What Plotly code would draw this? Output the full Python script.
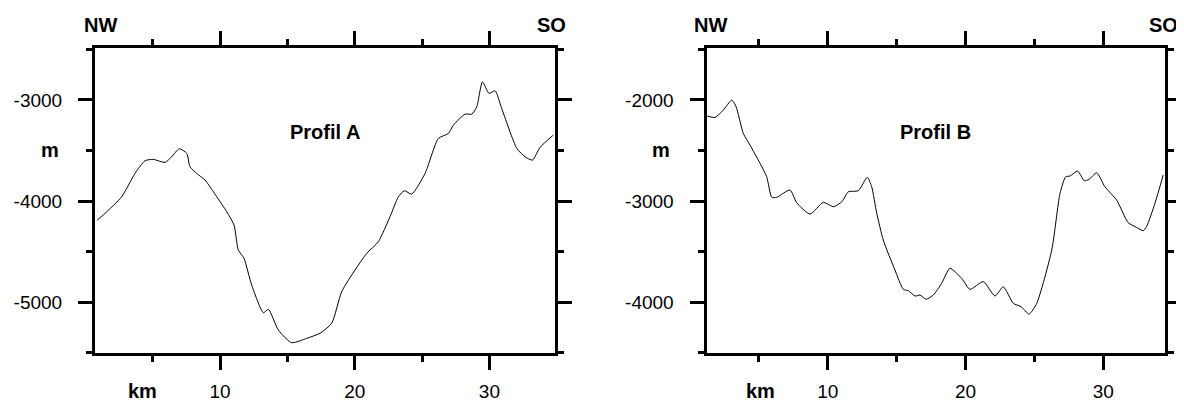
import plotly.graph_objects as go

# Profil A (km, m)
km_a = [0.89, 1.46, 2.70, 3.69, 4.43, 5.05, 5.92, 6.41, 6.98, 7.53, 7.77, 8.27, 8.89, 9.76,
        10.50, 11.04, 11.36, 11.78, 12.35, 13.22, 13.59, 14.33, 15.32, 16.44, 17.42, 18.29,
        19.03, 20.02, 20.89, 21.75, 22.62, 23.24, 23.68, 24.23, 25.22, 26.21, 26.95, 27.32,
        28.19, 28.69, 29.06, 29.48, 29.97, 30.42, 30.91, 32.03, 32.64, 33.19, 33.76, 34.74]
depth_a = [-4188, -4122, -3958, -3726, -3602, -3588, -3618, -3562, -3483, -3529, -3661, -3727,
           -3793, -3958, -4106, -4237, -4484, -4566, -4830, -5104, -5070, -5275, -5400, -5357,
           -5307, -5208, -4896, -4682, -4517, -4402, -4155, -3958, -3898, -3931, -3727, -3381,
           -3332, -3250, -3141, -3141, -3068, -2822, -2936, -2910, -3084, -3479, -3562, -3595,
           -3469, -3348]

# Profil B (km, m)
km_b = [1.26, 1.82, 2.42, 3.03, 3.35, 3.87, 4.36, 5.09, 5.57, 5.94, 6.30, 7.26, 7.75, 8.72,
        9.68, 10.41, 11.02, 11.50, 12.22, 12.87, 13.19, 13.56, 14.03, 14.88, 15.49, 15.85,
        16.34, 16.70, 17.14, 17.66, 18.27, 18.87, 19.72, 20.33, 21.29, 22.14, 22.74, 23.47,
        24.03, 24.61, 25.17, 26.26, 26.86, 27.27, 27.58, 28.14, 28.62, 28.96, 29.52, 30.12,
        30.97, 31.81, 32.42, 32.90, 33.14, 33.75, 34.35]
depth_b = [-2160, -2173, -2101, -2002, -2068, -2331, -2447, -2628, -2760, -2963, -2963, -2891,
           -3017, -3128, -3013, -3056, -3007, -2908, -2898, -2766, -2859, -3122, -3385, -3682,
           -3873, -3886, -3939, -3929, -3971, -3929, -3813, -3665, -3764, -3873, -3797, -3939,
           -3847, -4011, -4044, -4117, -4011, -3484, -2924, -2760, -2753, -2704, -2799, -2786,
           -2721, -2859, -2990, -3214, -3260, -3293, -3254, -3023, -2743]

# Tick labels
x_ticks = [10, 20, 30]
x_ticktext = ["10", "20", "30"]
y_ticks_a = [-3000, -4000, -5000]
y_ticktext_a = ["-3000", "-4000", "-5000"]
y_ticks_b = [-2000, -3000, -4000]
y_ticktext_b = ["-2000", "-3000", "-4000"]

PAGE_W, PAGE_H = 1184, 401
OFF = 8  # default body margin of the html page
W, H = PAGE_W - OFF, PAGE_H - OFF
FONT = "Liberation Sans, Arial, Helvetica, sans-serif"

fig = go.Figure()
fig.add_trace(go.Scatter(x=km_a, y=depth_a, mode="lines", xaxis="x", yaxis="y",
                         line=dict(color="black", width=1, shape="spline", smoothing=0.6),
                         showlegend=False, hoverinfo="skip"))
fig.add_trace(go.Scatter(x=km_b, y=depth_b, mode="lines", xaxis="x2", yaxis="y2",
                         line=dict(color="black", width=1, shape="spline", smoothing=0.6),
                         showlegend=False, hoverinfo="skip"))

def px_x(p):
    return (p - OFF) / W

def px_y(p):
    return 1 - (p - OFF) / H

common = dict(showline=True, linewidth=3, linecolor="black", mirror="allticks",
              ticks="outside", ticklen=14, tickwidth=3, tickcolor="black",
              showgrid=False, zeroline=False, automargin=False,
              tickfont=dict(family=FONT, size=19, color="black"),
              tickmode="array")

xa = dict(common, tickvals=x_ticks, ticktext=x_ticktext, ticklabelstandoff=5,
          minor=dict(ticks="outside", ticklen=6, tickwidth=3, tickcolor="black",
                     tickmode="linear", dtick=5, tick0=0, showgrid=False))
ya_minor = dict(ticks="outside", ticklen=6, tickwidth=3, tickcolor="black",
                tickmode="linear", dtick=500, tick0=0, showgrid=False)

ydom = [px_y(353), px_y(48)]

fig.update_layout(
    width=W, height=H,
    margin=dict(l=0, r=0, t=0, b=0),
    paper_bgcolor="white", plot_bgcolor="white",
    xaxis=dict(xa, domain=[px_x(95), px_x(554.5)], range=[0.72, 34.83], anchor="y"),
    yaxis=dict(common, tickvals=y_ticks_a, ticktext=y_ticktext_a, ticklabelstandoff=12,
               minor=ya_minor, domain=ydom, range=[-5502, -2487], anchor="x"),
    xaxis2=dict(xa, domain=[px_x(706.5), px_x(1165)], range=[1.2, 34.48], anchor="y2"),
    yaxis2=dict(common, tickvals=y_ticks_b, ticktext=y_ticktext_b, ticklabelstandoff=12,
                minor=ya_minor, domain=ydom, range=[-4502, -1487], anchor="x2"),
)

bold = dict(family=FONT, size=20, color="black", weight="bold")
labels = [
    ("NW", 100, 25.5), ("SO", 551.5, 25.5), ("m", 50, 150), ("km", 142, 391), ("Profil A", 324.5, 132),
    ("NW", 710.5, 25.5), ("SO", 1163.5, 25.5), ("m", 660.5, 150), ("km", 760.5, 391), ("Profil B", 935.5, 132),
]
for txt, x, y in labels:
    extra = dict(height=16, borderpad=0) if txt == "km" else {}
    fig.add_annotation(text=txt, x=px_x(x), y=px_y(y), xref="paper", yref="paper",
                       showarrow=False, font=bold, xanchor="center", yanchor="middle", **extra)

fig.write_html("out.html")
